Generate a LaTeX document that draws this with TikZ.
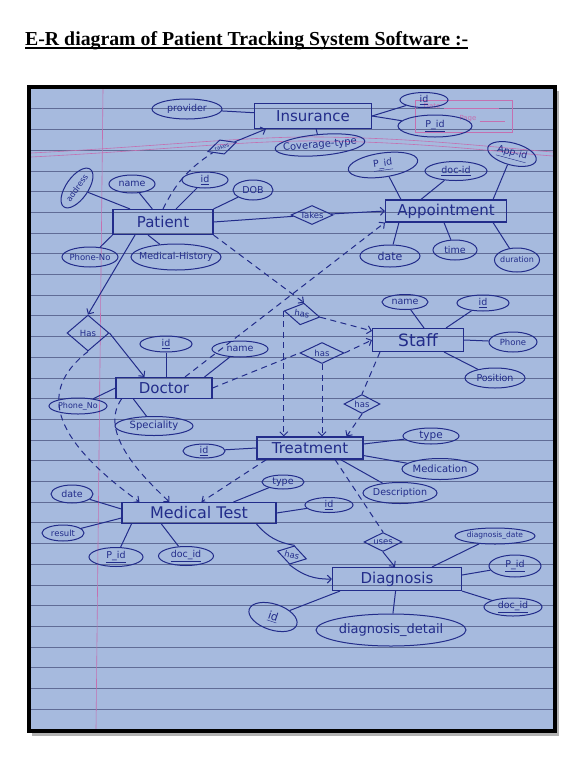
\documentclass[tikz,border=0pt]{standalone}
\usepackage{fontspec}
\setmainfont{Liberation Serif}
\newfontfamily\hand{DejaVu Sans}
\usetikzlibrary{shapes.geometric,arrows.meta,calc}
\definecolor{paper}{RGB}{166,186,222}
\definecolor{ink}{RGB}{34,44,138}
\definecolor{rulec}{RGB}{96,108,150}
\definecolor{marginc}{RGB}{196,112,176}
\newcommand\zb[1]{\makebox[0pt]{#1}}
\tikzset{
  ent/.style={draw=ink, line width=1.1pt, rectangle, inner sep=0pt, text=ink, font=\hand\fontsize{15}{15}\selectfont},
  attr/.style={draw=ink, line width=1pt, ellipse, inner sep=0pt, text=ink, font=\hand\fontsize{9.5}{9.5}\selectfont},
  rel/.style={draw=ink, line width=1pt, diamond, inner sep=0pt, aspect=2, text=ink, font=\hand\fontsize{8.5}{8.5}\selectfont},
  con/.style={draw=ink, line width=1pt},
  dcon/.style={con, dash pattern=on 6pt off 4.5pt},
  arr/.style={-{Straight Barb[length=4pt,width=8pt]}},
  stamp/.style={text=marginc, inner sep=0pt, font=\hand\fontsize{7}{7}\selectfont},
}
\begin{document}
\begin{tikzpicture}[x=1pt,y=-1pt]
\useasboundingbox (0,0) rectangle (576,764);
\fill[white] (0,0) rectangle (576,764);
% title
\node[anchor=base west, inner sep=0pt, font=\bfseries\fontsize{19.8}{22}\selectfont] (title) at (25,45) {E-R diagram of Patient Tracking System Software :-};
\draw[line width=1.4pt] ([yshift=-3pt]title.base west) -- ([yshift=-3pt]title.base east);
% photo frame and paper
\fill[black!30] (32,91) rectangle (559,736);
\fill[paper] (29,87) rectangle (555,731);
\foreach \k in {-9,...,20} \draw[rulec, line width=0.6pt] (31,{295+20.7*\k}) -- (553,{295+20.7*\k});
\draw[marginc, line width=0.6pt] (103,89) -- (96,729);
\draw[marginc, line width=0.6pt] (31,153) .. controls (150,147) and (250,136) .. (320,137) .. controls (420,138) and (500,148) .. (553,152);
\draw[marginc, line width=0.6pt] (31,157) .. controls (150,151) and (250,140) .. (320,141) .. controls (420,142) and (500,152) .. (553,156);
\draw[marginc, line width=0.6pt] (415,100) rectangle (512,132);
\node[stamp] (sdate) at (432,106) {Date};
\node[stamp] (spage) at (468,119) {Page};
\draw[marginc, line width=0.5pt] (sdate.east) ++(3,2) -- ++(55,0);
\draw[marginc, line width=0.5pt] (spage.east) ++(3,2) -- ++(25,0);
\draw[line width=3.5pt] (29,87) rectangle (555,731);

% entities
\node[ent, minimum width=117pt, minimum height=25pt] (ins) at (313,116) {Insurance};
\node[ent, minimum width=100pt, minimum height=25pt] (pat) at (163,222) {Patient};
\node[ent, minimum width=121pt, minimum height=22pt] (app) at (446,211) {Appointment};
\node[ent, minimum width=91pt, minimum height=23pt, font=\hand\fontsize{17}{17}\selectfont] (staff) at (418,340) {Staff};
\node[ent, minimum width=96pt, minimum height=21pt] (doc) at (164,388) {Doctor};
\node[ent, minimum width=106pt, minimum height=22pt] (treat) at (310,448) {Treatment};
\node[ent, minimum width=154pt, minimum height=21pt, font=\hand\fontsize{16}{16}\selectfont] (mt) at (199,513) {Medical Test};
\node[ent, minimum width=129pt, minimum height=23pt] (diag) at (397,579) {Diagnosis};

% relationships
\node[rel, minimum width=30pt, minimum height=15pt, font=\hand\fontsize{5.5}{5.5}\selectfont, rotate=18] (rti) at (222,147) {takes};
\node[rel, minimum width=42pt, minimum height=19pt, aspect=2.2] (rtakes) at (312,215) {Takes};
\node[rel, minimum width=36pt, minimum height=22pt, rotate=-10] (rh1) at (302,314) {has};
\node[rel, minimum width=44pt, minimum height=21pt] (rh2) at (322,353) {has};
\node[rel, minimum width=36pt, minimum height=19pt] (rh3) at (362,404) {has};
\node[rel, minimum width=42pt, minimum height=36pt, aspect=1] (rH) at (88,333) {Has};
\node[rel, minimum width=30pt, minimum height=19pt, rotate=-15] (rh4) at (292,555) {has};
\node[rel, minimum width=38pt, minimum height=19pt] (ruses) at (383,542) {uses};

% attributes: Insurance
\node[attr, minimum width=70pt, minimum height=20pt] (prov) at (187,109) {\zb{provider}};
\node[attr, minimum width=48pt, minimum height=15pt] (insid) at (424,100) {\zb{\underline{id}}};
\node[attr, minimum width=74pt, minimum height=22pt] (inspid) at (435,126) {\zb{\underline{P\_id}}};
\node[attr, minimum width=90pt, minimum height=21pt, rotate=5, font=\hand\fontsize{10}{10}\selectfont] (cov) at (320,145) {\zb{Coverage-type}};
% Patient
\node[attr, minimum width=46pt, minimum height=22pt, rotate=55, font=\hand\fontsize{8}{8}\selectfont] (addr) at (77,188) {\zb{address}};
\node[attr, minimum width=46pt, minimum height=18pt] (pname) at (132,184) {\zb{name}};
\node[attr, minimum width=46pt, minimum height=16pt] (pid) at (205,180) {\zb{\underline{id}}};
\node[attr, minimum width=40pt, minimum height=20pt] (dob) at (253,190) {\zb{DOB}};
\node[attr, minimum width=56pt, minimum height=20pt, font=\hand\fontsize{8.5}{8.5}\selectfont] (pphone) at (90,257) {\zb{Phone-No}};
\node[attr, minimum width=90pt, minimum height=26pt] (medh) at (176,257) {\zb{Medical-History}};
% Appointment
\node[attr, minimum width=70pt, minimum height=24pt, rotate=8] (apid) at (383,165) {\zb{\underline{P\_id}}};
\node[attr, minimum width=62pt, minimum height=19pt] (adoc) at (456,171) {\zb{\underline{doc-id}}};
\node[attr, minimum width=50pt, minimum height=22pt, rotate=-15] (appid) at (512,154) {\zb{\underline{App-id}}};
\node[attr, minimum width=60pt, minimum height=22pt, font=\hand\fontsize{11}{11}\selectfont] (adate) at (390,256) {\zb{date}};
\node[attr, minimum width=44pt, minimum height=20pt] (atime) at (455,250) {\zb{time}};
\node[attr, minimum width=45pt, minimum height=24pt, font=\hand\fontsize{8}{8}\selectfont] (adur) at (517,260) {\zb{duration}};
% Staff
\node[attr, minimum width=46pt, minimum height=15pt] (sname) at (405,302) {\zb{name}};
\node[attr, minimum width=52pt, minimum height=16pt] (sid) at (483,303) {\zb{\underline{id}}};
\node[attr, minimum width=48pt, minimum height=20pt, font=\hand\fontsize{8.5}{8.5}\selectfont] (sphone) at (513,342) {\zb{Phone}};
\node[attr, minimum width=60pt, minimum height=20pt] (spos) at (495,378) {\zb{Position}};
% Doctor
\node[attr, minimum width=52pt, minimum height=16pt] (did) at (166,344) {\zb{\underline{id}}};
\node[attr, minimum width=56pt, minimum height=16pt] (dname) at (240,349) {\zb{name}};
\node[attr, minimum width=58pt, minimum height=16pt, font=\hand\fontsize{8}{8}\selectfont] (dphone) at (78,406) {\zb{Phone\_No}};
\node[attr, minimum width=78pt, minimum height=19pt, font=\hand\fontsize{10}{10}\selectfont] (dspec) at (154,426) {\zb{Speciality}};
% Treatment
\node[attr, minimum width=42pt, minimum height=14pt] (tid) at (204,451) {\zb{\underline{id}}};
\node[attr, minimum width=56pt, minimum height=16pt, font=\hand\fontsize{10.5}{10.5}\selectfont] (ttype) at (431,436) {\zb{type}};
\node[attr, minimum width=76pt, minimum height=21pt, font=\hand\fontsize{10}{10}\selectfont] (tmed) at (440,469) {\zb{Medication}};
\node[attr, minimum width=74pt, minimum height=21pt] (tdesc) at (400,493) {\zb{Description}};
% Medical Test
\node[attr, minimum width=42pt, minimum height=18pt] (mdate) at (72,494) {\zb{date}};
\node[attr, minimum width=42pt, minimum height=16pt, font=\hand\fontsize{8.5}{8.5}\selectfont] (mres) at (63,533) {\zb{result}};
\node[attr, minimum width=54pt, minimum height=19pt] (mpid) at (116,557) {\zb{\underline{P\_id}}};
\node[attr, minimum width=55pt, minimum height=19pt] (mdoc) at (186,556) {\zb{\underline{doc\_id}}};
\node[attr, minimum width=42pt, minimum height=14pt] (mtype) at (283,482) {\zb{type}};
\node[attr, minimum width=48pt, minimum height=15pt] (mid) at (329,505) {\zb{\underline{id}}};
% Diagnosis
\node[attr, minimum width=80pt, minimum height=16pt, font=\hand\fontsize{7.5}{7.5}\selectfont] (ddate) at (495,536) {\zb{diagnosis\_date}};
\node[attr, minimum width=52pt, minimum height=22pt] (dpid) at (515,566) {\zb{\underline{P\_id}}};
\node[attr, minimum width=58pt, minimum height=18pt] (ddoc) at (513,607) {\zb{\underline{doc\_id}}};
\node[attr, minimum width=150pt, minimum height=32pt, font=\hand\fontsize{13}{13}\selectfont] (ddet) at (391,630) {\zb{diagnosis\_detail}};
\node[attr, minimum width=50pt, minimum height=26pt, rotate=-18, font=\hand\fontsize{11}{11}\selectfont] (diid) at (273,617) {\zb{\underline{id}}};

% ---- connectors ----
% Insurance
\draw[con] (prov) -- (ins);
\draw[con] (ins.east) -- (insid);
\draw[con] (ins.east) -- (inspid);
\draw[con] (ins) -- (cov);
\draw[con,arr] (rti) -- ($(ins.south west)+(12,0)$);
\draw[dcon] (pat.north) to[bend left=15] (rti);
% Patient attributes
\draw[con] (pat) -- (addr);
\draw[con] (pat) -- (pname);
\draw[con] (pat) -- (pid);
\draw[con] (pat.north east) -- (dob);
\draw[con] (pat.south west) -- (pphone);
\draw[con] ($(pat.south)+(-15,0)$) -- (medh);
% Takes
\draw[con] (pat.east) -- (rtakes);
\draw[con,arr] (rtakes) -- (app.west);
% Appointment attributes
\draw[con] ($(app.north west)+(16,0)$) -- (apid);
\draw[con] ($(app.north west)+(36,0)$) -- (adoc);
\draw[con] ($(app.north east)+(-14,0)$) -- (appid);
\draw[con] ($(app.south west)+(14,0)$) -- (adate);
\draw[con] ($(app.south)+(-2,0)$) -- (atime);
\draw[con] ($(app.south east)+(-14,0)$) -- (adur);
% Patient -> has -> Staff / Treatment
\draw[dcon,arr] (pat.south east) -- (rh1.north);
\draw[dcon,arr] (rh1.east) -- ($(staff.north west)+(0,3)$);
\draw[dcon,arr] (rh1.west) -- (rh1.west |- treat.north);
% Doctor -> Appointment
\draw[dcon,arr] ($(doc.north)+(21,0)$) -- (app.south west);
% Doctor -> has -> Staff / Treatment
\draw[dcon] (doc.east) -- (rh2.west);
\draw[dcon,arr] (rh2.east) -- (staff.west);
\draw[dcon,arr] (rh2.south) -- (rh2.south |- treat.north);
% Staff -> has -> Treatment
\draw[dcon] ($(staff.south west)+(8,0)$) -- (rh3.north);
\draw[dcon,arr] (rh3.south) -- ($(treat.north east)+(-17,0)$);
% Staff attributes
\draw[con] ($(staff.north)+(6,0)$) -- (sname);
\draw[con] ($(staff.north east)+(-18,0)$) -- (sid);
\draw[con] (staff.east) -- (sphone);
\draw[con] ($(staff.south east)+(-20,0)$) -- (spos);
% Patient -> Has -> Doctor
\draw[con,arr] ($(pat.south)+(-28,0)$) -- (rH.north);
\draw[con,arr] (rH.east) -- ($(doc.north west)+(29,0)$);
% Doctor attributes
\draw[con] (did) -- (did |- doc.north);
\draw[con] ($(doc.north east)+(-8,0)$) -- (dname);
\draw[con] (doc.west) -- (dphone);
\draw[con] ($(doc.south west)+(18,0)$) -- (dspec);
% to Medical Test
\draw[dcon,arr] (rH.south) .. controls (45,385) and (40,430) .. ($(mt.north west)+(18,0)$);
\draw[dcon,arr] ($(doc.south west)+(6,0)$) .. controls (100,430) and (135,470) .. ($(mt.north west)+(48,0)$);
\draw[dcon,arr] ($(treat.south west)+(10,0)$) -- ($(mt.north west)+(80,0)$);
% Treatment attributes
\draw[con] (tid) -- (treat.west);
\draw[con] ($(treat.east)+(0,-4)$) -- (ttype);
\draw[con] ($(treat.south east)+(0,-4)$) -- (tmed);
\draw[con] ($(treat.south east)+(-23,0)$) -- (tdesc);
% Treatment -> uses -> Diagnosis
\draw[dcon] ($(treat.south)+(25,0)$) -- (ruses.north);
\draw[con,arr] (ruses.south) -- ($(diag.north)+(-2,0)$);
% Medical Test attributes
\draw[con] (mdate) -- ($(mt.west)+(0,-4)$);
\draw[con] (mres) -- ($(mt.west)+(0,5)$);
\draw[con] ($(mt.south west)+(10,0)$) -- (mpid);
\draw[con] ($(mt.south west)+(40,0)$) -- (mdoc);
\draw[con] ($(mt.north east)+(-43,0)$) -- (mtype);
\draw[con] (mt.east) -- (mid);
% Medical Test -> has -> Diagnosis
\draw[con] ($(mt.south east)+(-20,0)$) to[bend right=20] (rh4.north);
\draw[con,arr] (rh4.south) to[bend right=20] (diag.west);
% Diagnosis attributes
\draw[con] ($(diag.north)+(35,0)$) -- (ddate);
\draw[con] ($(diag.east)+(0,-4)$) -- (dpid);
\draw[con] (diag.south east) -- (ddoc);
\draw[con] (diag) -- (ddet);
\draw[con] ($(diag.south west)+(8,0)$) -- (diid);
\end{tikzpicture}
\end{document}
